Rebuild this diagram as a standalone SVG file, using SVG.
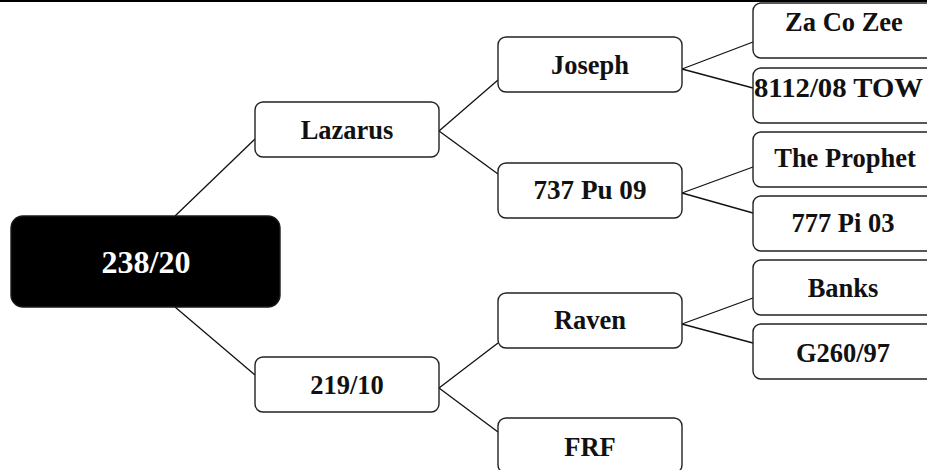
<svg xmlns="http://www.w3.org/2000/svg" width="927" height="470" viewBox="0 0 927 470">
<style>
.box{fill:#fff;stroke:#222;stroke-width:1.4}
.root{fill:#000;stroke:#1a1a1a;stroke-width:1.4}
.t{font-family:"Liberation Serif","Times New Roman",serif;font-weight:bold;font-size:26.5px;fill:#111;text-anchor:middle}
.rt{font-family:"Liberation Serif","Times New Roman",serif;font-weight:bold;font-size:32px;fill:#fff;text-anchor:middle}
.c line{stroke:#111;stroke-width:1.3}
</style>
<rect width="927" height="470" fill="#fff"/>
<line x1="0" y1="1" x2="927" y2="1" stroke="#000" stroke-width="2"/>
<g id="connectors" class="c">
<line x1="175" y1="216" x2="255" y2="139"/>
<line x1="175" y1="307" x2="255" y2="375"/>
<line x1="439" y1="131" x2="498" y2="80"/>
<line x1="439" y1="131" x2="498" y2="174"/>
<line x1="682" y1="69" x2="753" y2="42"/>
<line x1="682" y1="69" x2="753" y2="88"/>
<line x1="682" y1="193" x2="753" y2="167"/>
<line x1="682" y1="193" x2="753" y2="213"/>
<line x1="439" y1="388" x2="498" y2="343"/>
<line x1="439" y1="388" x2="498" y2="432"/>
<line x1="682" y1="324" x2="753" y2="298"/>
<line x1="682" y1="324" x2="753" y2="343"/>
</g>
<g id="n-root"><rect class="root" x="11" y="216" width="269" height="91" rx="12"/><text class="rt" x="146" y="273">238/20</text></g>
<g id="n-lazarus"><rect class="box" x="255" y="102" width="184" height="55" rx="8"/><text class="t" x="347" y="139">Lazarus</text></g>
<g id="n-21910"><rect class="box" x="255" y="357" width="184" height="55" rx="8"/><text class="t" x="347" y="394">219/10</text></g>
<g id="n-joseph"><rect class="box" x="498" y="37" width="184" height="55" rx="8"/><text class="t" x="590" y="74">Joseph</text></g>
<g id="n-737"><rect class="box" x="498" y="163" width="184" height="55" rx="8"/><text class="t" x="590" y="199" textLength="113" lengthAdjust="spacingAndGlyphs">737 Pu 09</text></g>
<g id="n-raven"><rect class="box" x="498" y="293" width="184" height="55" rx="8"/><text class="t" x="590" y="329">Raven</text></g>
<g id="n-frf"><rect class="box" x="498" y="418" width="184" height="55" rx="8"/><text class="t" x="590" y="456">FRF</text></g>
<g id="n-zacozee"><rect class="box" x="753" y="3" width="184" height="55" rx="8"/><text class="t" x="844" y="31">Za Co Zee</text></g>
<g id="n-8112"><rect class="box" x="753" y="68" width="184" height="55" rx="8"/><text class="t" x="838.5" y="97" textLength="169" lengthAdjust="spacingAndGlyphs">8112/08 TOW</text></g>
<g id="n-prophet"><rect class="box" x="753" y="132" width="184" height="55" rx="8"/><text class="t" x="845" y="167">The Prophet</text></g>
<g id="n-777"><rect class="box" x="753" y="196" width="184" height="55" rx="8"/><text class="t" x="843" y="232">777 Pi 03</text></g>
<g id="n-banks"><rect class="box" x="753" y="260" width="184" height="55" rx="8"/><text class="t" x="843" y="297">Banks</text></g>
<g id="n-g260"><rect class="box" x="753" y="324" width="184" height="55" rx="8"/><text class="t" x="843" y="362">G260/97</text></g>
</svg>
